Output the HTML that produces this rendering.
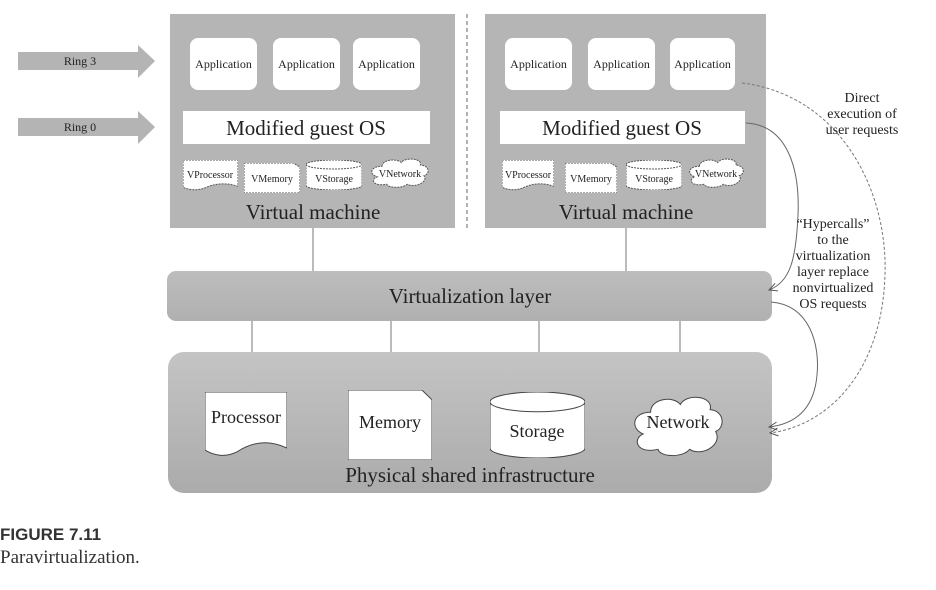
<!DOCTYPE html>
<html><head><meta charset="utf-8"><style>
html,body{margin:0;padding:0;background:#fff;}
svg{display:block;}
text{font-family:"Liberation Serif",serif;fill:#222;}
</style></head><body>
<svg width="936" height="590" viewBox="0 0 936 590" xmlns="http://www.w3.org/2000/svg">
<defs>
<linearGradient id="g" x1="0" y1="0" x2="0" y2="1"><stop offset="0" stop-color="#c4c4c4"/><stop offset="1" stop-color="#ababab"/></linearGradient>
<linearGradient id="g2" x1="0" y1="0" x2="0" y2="1"><stop offset="0" stop-color="#bdbdbd"/><stop offset="1" stop-color="#b0b0b0"/></linearGradient>
<symbol id="proc" viewBox="0 0 100 100" preserveAspectRatio="none"><path d="M0,0H100V85C75,70 55,78 40,90C25,100 10,96 0,88Z" fill="#fff" stroke="#444" stroke-width="1" vector-effect="non-scaling-stroke"/></symbol>
<symbol id="mem" viewBox="0 0 100 100" preserveAspectRatio="none"><path d="M0,0H88L100,14V100H0Z" fill="#fff" stroke="#444" stroke-width="1" vector-effect="non-scaling-stroke"/></symbol>
<symbol id="sto" viewBox="0 0 100 100" preserveAspectRatio="none"><path d="M0,15A50,15 0 0 1 100,15V85A50,15 0 0 1 0,85Z" fill="#fff" stroke="#444" stroke-width="1" vector-effect="non-scaling-stroke"/><path d="M0,15A50,15 0 0 0 100,15" fill="none" stroke="#444" stroke-width="1" vector-effect="non-scaling-stroke"/></symbol>
<symbol id="net" viewBox="0 0 100 100" preserveAspectRatio="none"><path d="M20,30C20,8 45,4 52,18C58,0 88,4 84,26C100,28 100,55 90,60C98,82 74,100 62,88C54,102 30,100 28,88C5,96 0,72 12,64C-2,56 0,30 20,30Z" fill="#fff" stroke="#444" stroke-width="1" vector-effect="non-scaling-stroke"/></symbol>
<symbol id="vproc" viewBox="0 0 100 100" preserveAspectRatio="none"><path d="M0,0H100V85C75,70 55,78 40,90C25,100 10,96 0,88Z" fill="#fff" stroke="#555" stroke-dasharray="2,1" vector-effect="non-scaling-stroke"/></symbol>
<symbol id="vmem" viewBox="0 0 100 100" preserveAspectRatio="none"><path d="M0,0H88L100,14V100H0Z" fill="#fff" stroke="#555" stroke-dasharray="2,1" vector-effect="non-scaling-stroke"/></symbol>
<symbol id="vsto" viewBox="0 0 100 100" preserveAspectRatio="none"><path d="M0,15A50,15 0 0 1 100,15V85A50,15 0 0 1 0,85Z" fill="#fff" stroke="#555" stroke-dasharray="2,1" vector-effect="non-scaling-stroke"/><path d="M0,15A50,15 0 0 0 100,15" fill="none" stroke="#555" stroke-dasharray="2,1" vector-effect="non-scaling-stroke"/></symbol>
<symbol id="vnet" viewBox="0 0 100 100" preserveAspectRatio="none"><path d="M20,30C20,8 45,4 52,18C58,0 88,4 84,26C100,28 100,55 90,60C98,82 74,100 62,88C54,102 30,100 28,88C5,96 0,72 12,64C-2,56 0,30 20,30Z" fill="#fff" stroke="#555" stroke-dasharray="2,1" vector-effect="non-scaling-stroke"/></symbol>
<marker id="ah" markerWidth="10" markerHeight="10" refX="9" refY="5" orient="auto" markerUnits="userSpaceOnUse"><path d="M1,1L9,5L1,9" fill="none" stroke="#555" stroke-width="1"/></marker>
</defs>

<path d="M18,52H138V45L155,61L138,78V70H18Z" fill="#b4b4b4"/>
<text x="80" y="65" font-size="12" text-anchor="middle">Ring 3</text>
<path d="M18,118H138V111L155,127L138,144V136H18Z" fill="#b4b4b4"/>
<text x="80" y="131" font-size="12" text-anchor="middle">Ring 0</text>

<line x1="313" y1="228" x2="313" y2="272" stroke="#777"/>
<line x1="626" y1="228" x2="626" y2="272" stroke="#777"/>
<line x1="252" y1="320" x2="252" y2="353" stroke="#777"/>
<line x1="391" y1="320" x2="391" y2="353" stroke="#777"/>
<line x1="539" y1="320" x2="539" y2="353" stroke="#777"/>
<line x1="680" y1="320" x2="680" y2="353" stroke="#777"/>

<rect x="170" y="14" width="285" height="214" fill="#b5b5b5"/>
<rect x="485" y="14" width="281" height="214" fill="#b5b5b5"/>
<line x1="467" y1="14" x2="467" y2="230" stroke="#666" stroke-dasharray="4,3"/>

<g font-size="12">
<rect x="190" y="38" width="67" height="52" rx="8" fill="#fff"/><text x="223.5" y="68" text-anchor="middle">Application</text>
<rect x="273" y="38" width="67" height="52" rx="8" fill="#fff"/><text x="306.5" y="68" text-anchor="middle">Application</text>
<rect x="353" y="38" width="67" height="52" rx="8" fill="#fff"/><text x="386.5" y="68" text-anchor="middle">Application</text>
<rect x="505" y="38" width="67" height="52" rx="8" fill="#fff"/><text x="538.5" y="68" text-anchor="middle">Application</text>
<rect x="588" y="38" width="67" height="52" rx="8" fill="#fff"/><text x="621.5" y="68" text-anchor="middle">Application</text>
<rect x="670" y="38" width="65" height="52" rx="8" fill="#fff"/><text x="702.5" y="68" text-anchor="middle">Application</text>
</g>

<rect x="183" y="111" width="247" height="33" fill="#fff"/>
<text x="306" y="135" font-size="21" text-anchor="middle">Modified guest OS</text>
<rect x="500" y="111" width="245" height="33" fill="#fff"/>
<text x="622" y="135" font-size="21" text-anchor="middle">Modified guest OS</text>

<g font-size="10">
<use href="#vproc" x="183" y="160" width="55" height="31"/><text x="210" y="178" text-anchor="middle">VProcessor</text>
<use href="#vmem" x="244" y="163" width="56" height="30"/><text x="272" y="182" text-anchor="middle">VMemory</text>
<use href="#vsto" x="306" y="160" width="56" height="30"/><text x="334" y="182" text-anchor="middle">VStorage</text>
<use href="#vnet" x="370" y="157" width="60" height="31"/><text x="400" y="177" text-anchor="middle">VNetwork</text>
<use href="#vproc" x="502" y="160" width="52" height="31"/><text x="528" y="178" text-anchor="middle">VProcessor</text>
<use href="#vmem" x="565" y="163" width="52" height="30"/><text x="591" y="182" text-anchor="middle">VMemory</text>
<use href="#vsto" x="626" y="160" width="56" height="30"/><text x="654" y="182" text-anchor="middle">VStorage</text>
<use href="#vnet" x="688" y="157" width="57" height="31"/><text x="716" y="177" text-anchor="middle">VNetwork</text>
</g>
<text x="313" y="219" font-size="21" text-anchor="middle">Virtual machine</text>
<text x="626" y="219" font-size="21" text-anchor="middle">Virtual machine</text>

<rect x="167" y="271" width="605" height="50" rx="9" fill="url(#g2)"/>
<text x="470" y="303" font-size="21" text-anchor="middle">Virtualization layer</text>

<rect x="168" y="352" width="604" height="141" rx="16" fill="url(#g)"/>
<use href="#proc" x="205" y="392" width="82" height="66"/><text x="246" y="423" font-size="18" text-anchor="middle">Processor</text>
<use href="#mem" x="348" y="390" width="84" height="70"/><text x="390" y="428" font-size="18" text-anchor="middle">Memory</text>
<use href="#sto" x="490" y="392" width="95" height="66"/><text x="537" y="437" font-size="18" text-anchor="middle">Storage</text>
<use href="#net" x="632" y="393" width="93" height="64"/><text x="678" y="428" font-size="18" text-anchor="middle">Network</text>
<text x="470" y="482" font-size="21" text-anchor="middle">Physical shared infrastructure</text>

<path d="M742,83C840,95 888,190 885,275C882,370 830,425 770,433" fill="none" stroke="#777" stroke-dasharray="3,2" marker-end="url(#ah)"/>
<path d="M746,123C788,125 800,170 798,215C796,260 790,282 769,290" fill="none" stroke="#666" marker-end="url(#ah)"/>
<path d="M771,302C810,305 820,345 817,375C814,410 795,424 769,427" fill="none" stroke="#666" marker-end="url(#ah)"/>

<g font-size="14" text-anchor="middle">
<text x="862" y="102">Direct</text>
<text x="862" y="118">execution of</text>
<text x="862" y="134">user requests</text>
<text x="833" y="228">“Hypercalls”</text>
<text x="833" y="244">to the</text>
<text x="833" y="260">virtualization</text>
<text x="833" y="276">layer replace</text>
<text x="833" y="292">nonvirtualized</text>
<text x="833" y="308">OS requests</text>
</g>

<text x="0" y="540" font-size="17" style="font-family:'Liberation Sans',sans-serif;font-weight:bold;fill:#333">FIGURE 7.11</text>
<text x="0" y="563" font-size="19" style="fill:#333">Paravirtualization.</text>
</svg>
</body></html>
